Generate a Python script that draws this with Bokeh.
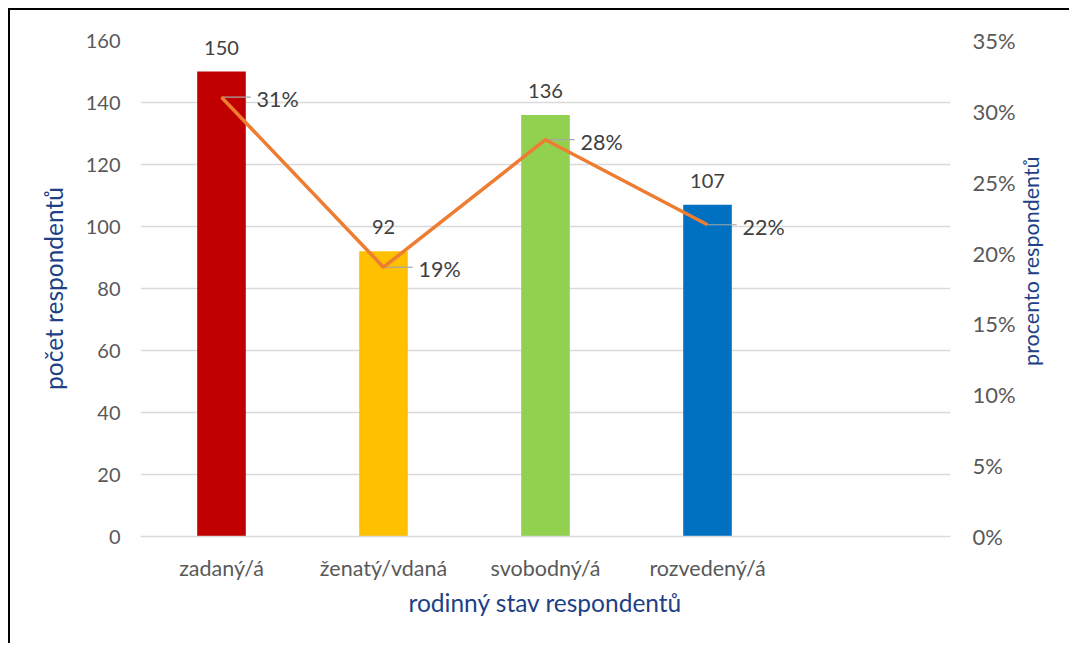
import math
from bokeh.plotting import figure
from bokeh.models import Range1d, LinearAxis, FixedTicker, NumeralTickFormatter
from bokeh.core.properties import value
from bokeh.embed import file_html
from bokeh.resources import INLINE

# ---- data ----
categories = ["zadaný/á", "ženatý/vdaná", "svobodný/á", "rozvedený/á"]
counts = [150, 92, 136, 107]
shares = [0.31, 0.19, 0.28, 0.22]
share_labels = ["31%", "19%", "28%", "22%"]
bar_colors = ["#C00000", "#FFC000", "#92D050", "#0070C0"]
count_ticks = [0, 20, 40, 60, 80, 100, 120, 140, 160]
pct_ticks = [0.0, 0.05, 0.10, 0.15, 0.20, 0.25, 0.30, 0.35]
n_slots = 5

x_title = "rodinný stav respondentů"
y_title = "počet respondentů"
y2_title = "procento respondentů"

FONT = "Lato"
TICK_COLOR = "#595959"
LABEL_COLOR = "#404040"
TITLE_COLOR = "#203F86"
GRID = "#D9D9D9"

W, H = 1061, 635
xs = [i + 0.5 for i in range(len(categories))]

p = figure(width=W, height=H, x_range=Range1d(0, n_slots), y_range=Range1d(0, 160),
           output_backend="svg", toolbar_location=None,
           min_border_left=130, min_border_right=121, min_border_top=30, min_border_bottom=109)
p.extra_y_ranges = {"pct": Range1d(0, 0.35)}
p.outline_line_color = None
p.background_fill_color = "white"
p.border_fill_color = "white"
p.styles = {"border-left": "2px solid #000", "border-top": "2px solid #000",
            "margin-left": "8px", "margin-top": "8px"}

# grid
p.xgrid.grid_line_color = None
p.ygrid.grid_line_color = GRID
p.ygrid.grid_line_width = 1.3
p.ygrid.ticker = FixedTicker(ticks=count_ticks)

# x axis
xa = p.xaxis[0]
xa.ticker = FixedTicker(ticks=xs)
xa.major_label_overrides = {x: c for x, c in zip(xs, categories)}
xa.axis_line_color = GRID
xa.axis_line_width = 1.3
xa.major_tick_line_color = None
xa.minor_tick_line_color = None
xa.major_tick_in = 0
xa.major_tick_out = 0
xa.major_label_standoff = 18
xa.major_label_text_font = FONT
xa.major_label_text_font_size = "21.5px"
xa.major_label_text_color = TICK_COLOR
xa.axis_label = x_title
xa.axis_label_standoff = 4
xa.axis_label_text_font = FONT
xa.axis_label_text_font_size = "24.5px"
xa.axis_label_text_font_style = "normal"
xa.axis_label_text_color = TITLE_COLOR

# left axis
ya = p.yaxis[0]
ya.ticker = FixedTicker(ticks=count_ticks)
ya.axis_line_color = None
ya.major_tick_line_color = None
ya.minor_tick_line_color = None
ya.major_tick_in = 0
ya.major_tick_out = 0
ya.major_label_standoff = 20
ya.major_label_text_font = FONT
ya.major_label_text_font_size = "20px"
ya.major_label_text_color = TICK_COLOR
ya.axis_label = y_title
ya.axis_label_standoff = 15
ya.axis_label_text_font = FONT
ya.axis_label_text_font_size = "24.5px"
ya.axis_label_text_font_style = "normal"
ya.axis_label_text_color = TITLE_COLOR

# right axis
ra = LinearAxis(y_range_name="pct", ticker=FixedTicker(ticks=pct_ticks),
                formatter=NumeralTickFormatter(format="0%"))
ra.axis_line_color = None
ra.major_tick_line_color = None
ra.minor_tick_line_color = None
ra.major_tick_in = 0
ra.major_tick_out = 0
ra.major_label_standoff = 22
ra.major_label_text_font = FONT
ra.major_label_text_font_size = "22px"
ra.major_label_text_color = TICK_COLOR
# the title starts at the bottom of the axis; no-break spaces lift it to where the reference has it
ra.axis_label = "\u00a0" * 31 + y2_title
ra.axis_label_standoff = 12
ra.axis_label_text_font = FONT
ra.axis_label_text_font_size = "21.5px"
ra.axis_label_text_font_style = "normal"
ra.axis_label_text_color = TITLE_COLOR
try:
    ra.axis_label_align = "start"
    ra.axis_label_orientation = math.pi / 2  # read bottom-to-top like the reference
except Exception:
    pass
p.add_layout(ra, "right")

# bars
p.vbar(x=xs, top=counts, width=0.3, bottom=0, fill_color=bar_colors, line_color=None)

# count labels
p.text(x=xs, y=counts, text=[str(c) for c in counts], text_align="center",
       text_baseline="middle", y_offset=-24, text_font=value(FONT),
       text_font_size="20px", text_color=LABEL_COLOR)

# leader lines for percentage labels
p.segment(x0=xs, y0=shares, x1=[x + 0.18 for x in xs], y1=shares, y_range_name="pct",
          line_color="#A6A6A6", line_width=1.2)

# percentage line
p.line(x=xs, y=shares, y_range_name="pct", line_color="#ED7D31", line_width=3.5,
       line_join="round")

# percentage labels
p.text(x=xs, y=shares, text=share_labels, y_range_name="pct", x_offset=35, y_offset=2,
       text_align="left", text_baseline="middle", text_font=value(FONT),
       text_font_size="21.5px", text_color=LABEL_COLOR)

open("out.html", "w").write(file_html(p, INLINE))
